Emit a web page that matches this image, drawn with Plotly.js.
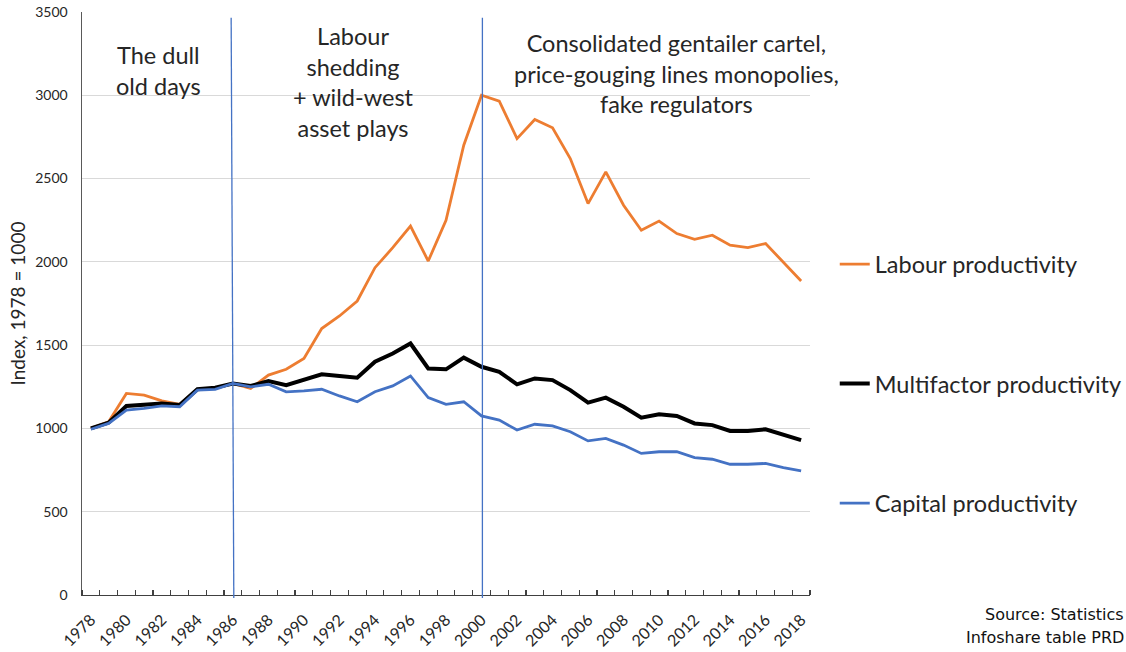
<!DOCTYPE html>
<html>
<head>
<meta charset="utf-8">
<script src="https://cdn.plot.ly/plotly-3.0.1.min.js"></script>
<style>html,body{margin:0;padding:0;background:#fff;}#chart{width:1126px;height:652px;}</style>
</head>
<body>
<div id="chart"></div>
<script>
const years = [1978,1979,1980,1981,1982,1983,1984,1985,1986,1987,1988,1989,1990,1991,1992,1993,1994,1995,1996,1997,1998,1999,2000,2001,2002,2003,2004,2005,2006,2007,2008,2009,2010,2011,2012,2013,2014,2015,2016,2017,2018];
const labourProductivity = [1000,1040,1210,1200,1165,1145,1235,1240,1270,1240,1320,1355,1420,1600,1675,1765,1965,2085,2215,2005,2250,2700,3000,2965,2740,2855,2805,2620,2350,2540,2340,2190,2245,2170,2135,2160,2100,2085,2110,2000,1885];
const multifactorProductivity = [1000,1035,1135,1145,1150,1140,1235,1245,1270,1255,1285,1260,1290,1325,1315,1305,1400,1450,1510,1360,1355,1425,1370,1340,1265,1300,1290,1230,1155,1185,1130,1065,1085,1075,1030,1020,985,985,995,960,930];
const capitalProductivity = [995,1030,1110,1120,1135,1130,1230,1235,1270,1250,1265,1220,1225,1235,1195,1160,1220,1255,1315,1185,1145,1160,1075,1050,990,1025,1015,980,925,940,900,850,860,860,825,815,785,785,790,765,745];
const seriesNames = ["Labour productivity","Multifactor productivity","Capital productivity"];
const xTickYears = [1978,1980,1982,1984,1986,1988,1990,1992,1994,1996,1998,2000,2002,2004,2006,2008,2010,2012,2014,2016,2018];
const yTicks = [0,500,1000,1500,2000,2500,3000,3500];
const eraBreaks = [1986, 2000];
const eraLabels = ["The dull<br>old days","Labour<br>shedding<br>+ wild-west<br>asset plays","Consolidated gentailer cartel,<br>price-gouging lines monopolies,<br>fake regulators"];
const eraLabelX = [1981.8, 1992.8, 2011.0];
const sourceLines = ["Source: Statistics","Infoshare table PRD"];

const FONT = "Lato, 'Open Sans', sans-serif";
const TXT = "#262626";

const traces = [
  {x: years, y: labourProductivity, name: seriesNames[0], type: "scatter", mode: "lines",
   line: {color: "#ED7D31", width: 2.8}, legendgroup: "a", legendrank: 1},
  {x: years, y: multifactorProductivity, name: seriesNames[1], type: "scatter", mode: "lines",
   line: {color: "#000000", width: 4}, legendgroup: "b", legendrank: 2},
  {x: years, y: capitalProductivity, name: seriesNames[2], type: "scatter", mode: "lines",
   line: {color: "#4472C4", width: 2.8}, legendgroup: "c", legendrank: 3}
];

const annotations = eraLabels.map((t, i) => ({
  x: eraLabelX[i], xref: "x", y: [0.90, 0.88, 0.895][i], yref: "paper",
  yanchor: "middle", xanchor: "center", text: t, showarrow: false, align: "center",
  font: {family: FONT, size: 23.5, color: TXT}
}));
annotations.push({x: 1.434, xref: "paper", y: -0.033, yref: "paper", xanchor: "right", yanchor: "middle",
  text: sourceLines[0], showarrow: false, font: {family: "'DejaVu Sans', sans-serif", size: 16, color: "#111"}});
annotations.push({x: 1.434, xref: "paper", y: -0.073, yref: "paper", xanchor: "right", yanchor: "middle",
  text: sourceLines[1], showarrow: false, font: {family: "'DejaVu Sans', sans-serif", size: 16, color: "#111"}});

const shapes = [
  {type: "line", xref: "x", yref: "paper", x0: eraBreaks[0] - 0.1, x1: eraBreaks[0] + 0.05, y0: 0.99, y1: -0.005,
   line: {color: "#4472C4", width: 1.3}},
  {type: "line", xref: "x", yref: "paper", x0: eraBreaks[1] + 0.05, x1: eraBreaks[1] + 0.05, y0: 0.99, y1: -0.005,
   line: {color: "#4472C4", width: 1.3}}
];

const layout = {
  width: 1126, height: 652,
  margin: {l: 82, r: 316, t: 12, b: 57, pad: 0, autoexpand: false},
  paper_bgcolor: "#fff", plot_bgcolor: "#fff",
  showlegend: true,
  legend: {x: 1.034, xanchor: "left", y: 0.605, yanchor: "top", tracegroupgap: 86,
           font: {family: FONT, size: 23.5, color: TXT}, bgcolor: "rgba(0,0,0,0)", itemwidth: 30},
  xaxis: {
    type: "linear", range: [1977.5, 2018.5], tickmode: "array", tickvals: xTickYears,
    ticktext: xTickYears.map(String), tickangle: -45, ticks: "", showgrid: false, zeroline: false,
    showline: true, linecolor: "#404040", linewidth: 1.3, ticklabelstandoff: 8, automargin: false,
    tickfont: {family: FONT, size: 16, color: TXT},
    minor: {ticks: "inside", ticklen: 5, tickcolor: "#404040", tickwidth: 1.2, tickmode: "linear", tick0: 1977.5, dtick: 1, showgrid: false}
  },
  yaxis: {
    range: [0, 3500], tickmode: "array", tickvals: yTicks, ticks: "", showgrid: true, gridcolor: "#d9d9d9", gridwidth: 1,
    zeroline: false, showline: true, linecolor: "#595959", linewidth: 1.5, ticklabelstandoff: 10, automargin: false,
    tickfont: {family: FONT, size: 14, color: TXT},
    title: {text: "Index, 1978 = 1000", font: {family: FONT, size: 19, color: TXT}, standoff: 4}
  },
  annotations: annotations,
  shapes: shapes
};

Plotly.newPlot("chart", traces, layout, {staticPlot: true, displayModeBar: false});
</script>
</body>
</html>
